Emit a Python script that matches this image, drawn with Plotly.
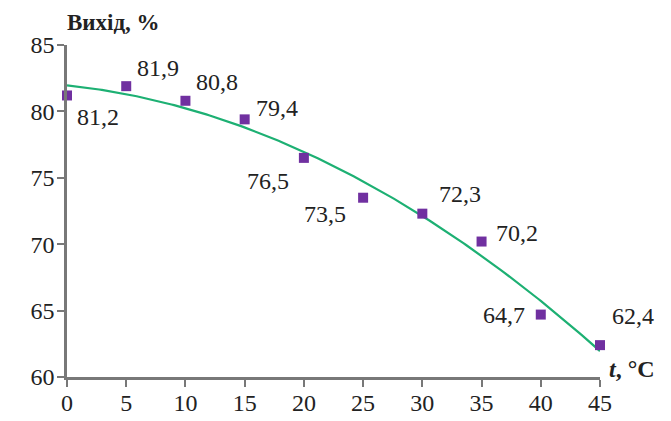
import numpy as np
import plotly.graph_objects as go

# Temperature (°C) and yield (%)
t_values = [0, 5, 10, 15, 20, 25, 30, 35, 40, 45]
yield_values = [81.2, 81.9, 80.8, 79.4, 76.5, 73.5, 72.3, 70.2, 64.7, 62.4]
x_ticks = [0, 5, 10, 15, 20, 25, 30, 35, 40, 45]
y_ticks = [60, 65, 70, 75, 80, 85]

# Pixel offsets of the value labels relative to their points
label_dx = [31, 32, 32, 32, -36, -38, 38, 35, -37, 33]
label_dy = [-22, 18, 19, 11, -23, -16, 20, 9, 0, 29]

FONT = "Times New Roman, Liberation Serif, serif"
GREEN = "#1db073"
PURPLE = "#7030a0"
AXIS = "#787878"
TEXT = "#222222"

# Second-order polynomial trend line
coef = np.polyfit(t_values, yield_values, 2)
t_fit = np.linspace(min(t_values), max(t_values), 200)
y_fit = np.polyval(coef, t_fit)

fig = go.Figure()
fig.add_trace(go.Scatter(x=t_fit, y=y_fit, mode="lines",
                         line=dict(color=GREEN, width=2.2),
                         hoverinfo="skip", cliponaxis=False))
fig.add_trace(go.Scatter(x=t_values, y=yield_values, mode="markers",
                         marker=dict(symbol="square", size=10, color=PURPLE),
                         cliponaxis=False))

for x, y, dx, dy in zip(t_values, yield_values, label_dx, label_dy):
    fig.add_annotation(x=x, y=y, text=f"{y:.1f}".replace(".", ","),
                       showarrow=False, xshift=dx, yshift=dy,
                       font=dict(family=FONT, size=24, color=TEXT))

fig.add_annotation(xref="paper", yref="paper", x=0, y=1, xshift=-2, yshift=8,
                   xanchor="left", yanchor="bottom", showarrow=False,
                   text="<b>Вихід, %</b>",
                   font=dict(family=FONT, size=23, color=TEXT))
fig.add_annotation(xref="paper", yref="paper", x=1, y=0, xshift=7, yshift=8,
                   xanchor="left", yanchor="middle", showarrow=False,
                   text="<b><i>t</i>, °C</b>",
                   font=dict(family=FONT, size=24, color=TEXT))

fig.update_layout(
    width=671, height=421,
    margin=dict(l=67, r=71, t=45, b=44, autoexpand=False),
    paper_bgcolor="white", plot_bgcolor="white",
    showlegend=False,
    font=dict(family=FONT, size=24, color=TEXT),
    xaxis=dict(range=[0, 45], tickvals=x_ticks, showgrid=False, zeroline=False,
               showline=True, linecolor=AXIS, linewidth=2.5, automargin=False,
               ticks="outside", ticklen=7, tickcolor=AXIS, tickwidth=2,
               ticklabelstandoff=-5),
    yaxis=dict(range=[60, 85], tickvals=y_ticks, showgrid=False, zeroline=False,
               showline=True, linecolor=AXIS, linewidth=2.5, automargin=False,
               ticks="outside", ticklen=7, tickcolor=AXIS, tickwidth=2,
               ticklabelstandoff=-2),
)

fig.write_html("out.html")
